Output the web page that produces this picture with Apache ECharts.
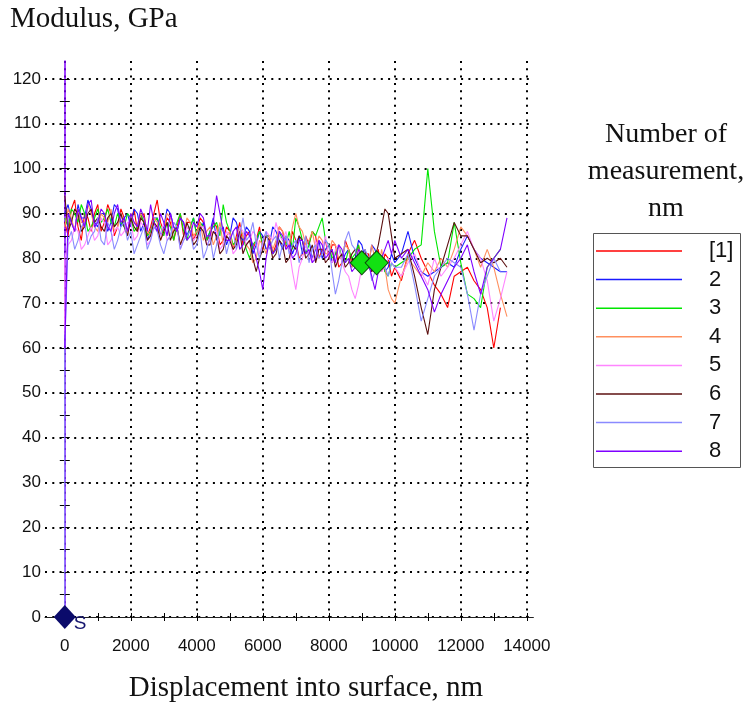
<!DOCTYPE html>
<html><head><meta charset="utf-8">
<script src="https://cdn.jsdelivr.net/npm/echarts@6/dist/echarts.min.js"></script>
<style>html,body{margin:0;padding:0;background:#fff}#c{width:745px;height:705px}</style>
</head><body><div id="c"></div><script>
// Depth grid (nm), main readings
const depth = [0,200,400,600,800,1000,1200,1400,1600,1800,
  2000,2200,2400,2600,2800,3000,3200,3400,3600,3800,
  4000,4200,4400,4600,4800,5000,5200,5400,5600,5800,
  6000,6200,6400,6600,6800,7000,7200,7400,7600,7800,
  8000,8200,8400,8600,8800,9000,9200,9400,9600,9800,
  10000,10200,10400,10600,10800,11000,11200,11400,11600,11800,
  12000,12200,12400,12600,12800,13000,13200,13400];
// Intermediate readings (nm)
const depthMid = [100,300,500,700,900,1100,1300,1500,1700,1900,
  2100,2300,2500,2700,2900,3100,3300,3500,3700,3900,
  4100,4300,4500,4700,4900,5100,5300,5500,5700,5900,
  6100,6300,6500,6700,6900,7100,7300,7500,7700,7900,
  8100,8300,8500,8700,8900,9100,9300,9500,9700,9900];

const seriesNames = ['[1]','2','3','4','5','6','7','8'];
const seriesColors = ['#ff0000','#1a1aff','#00e600','#ff8f5e','#ff85ff','#5c1010','#8a8aff','#7f00ff'];
// value at surface (x = 0) before the first reading, null if none
const surfaceStart = [null,null,null,null,63,null,0,null];

const mod1 = [88,91,87,90,86,92,88,90,87,89, 88,86,90,87,93,86,88,87,85,88, 86,88,85,87,84,86,85,83,86,84, 82,85,83,86,82,84,81,83,85,82, 80,83,79,82,80,78,81,79,77,80, 78,75,81,84,80,77,74,72,69,76, 77,78,75,73,69,60,69,null];
const mod2 = [90,88,92,89,91,87,90,88,91,89, 87,90,88,86,89,87,90,86,88,87, 85,88,86,84,87,85,88,84,86,83, 85,83,86,82,84,83,81,84,82,80, 83,81,79,82,80,83,78,82,80,78, 79,81,86,80,77,76,77,78,79,78, 82,85,82,80,79,78,77,77];
const mod3 = [89,91,88,90,87,91,89,88,90,87, 89,87,88,86,89,85,87,88,86,87, 85,87,86,88,92,86,84,85,80,84, 83,85,82,84,86,89,84,83,85,89, 83,81,80,82,81,79,80,78,80,76, 78,79,80,82,83,100,86,78,79,88, 79,72,71,69,78,80,82,null];
const mod4 = [87,89,91,88,90,86,89,91,87,88, 90,87,89,85,88,86,89,87,85,88, 86,84,87,85,83,86,84,85,82,80, 83,85,84,86,83,90,86,84,82,84, 81,83,80,82,79,81,78,80,82,73, 70,76,80,78,76,79,77,80,78,82, 87,85,82,78,82,78,72,67];
const mod5 = [80,84,86,83,87,85,88,84,87,86, 88,85,87,84,86,88,85,87,84,86, 85,87,84,86,83,85,82,86,84,85, 83,85,88,84,82,73,80,81,84,82, 80,82,79,76,71,78,80,79,77,80, 78,76,79,81,77,74,80,76,78,80, 83,86,82,80,75,66,71,77];
const mod6 = [94,88,90,87,91,89,86,90,88,87, 89,86,88,85,87,86,84,87,85,86, 84,86,83,85,82,84,83,81,84,77, 82,84,81,83,80,82,84,81,79,82, 80,78,81,79,82,80,78,80,87,90, 80,81,82,76,69,63,73,78,83,88, 85,85,82,79,80,79,80,78];
const mod7 = [60,86,84,88,85,89,83,86,84,88, 86,83,87,84,86,81,85,87,84,86, 83,80,85,83,86,84,82,89,85,83, 84,82,85,83,81,84,82,79,83,81, 83,72,79,86,82,78,80,77,79,76, 78,78,81,74,66,71,76,78,80,79, 78,72,64,72,76,80,77,null];
const mod8 = [60,88,91,87,93,88,90,86,92,89, 90,87,89,92,86,88,90,86,88,85, 87,89,85,94,86,84,87,83,85,80, 73,84,82,85,83,81,84,82,80,83, 81,79,82,80,78,81,79,73,80,84, 84,80,82,79,76,73,68,72,75,78, 80,83,77,72,78,80,82,89];

const mid1 = [85,93,84,89,90,86,92,85,91,86, 91,89,85,90,88,89,84,90,88,84, 89,84,88,83,87,82,88,85,82,87, 85,81,87,83,86,80,85,86,80,84, 83,78,84,79,83,81,77,82,81,76];
const mid2 = [92,86,89,93,88,90,86,92,87,90, 91,86,84,89,85,91,87,89,85,89, 86,84,89,86,83,89,85,87,81,86, 82,87,84,85,81,85,83,80,84,82, 79,83,81,78,84,80,83,79,77,81];
const mid3 = [87,90,92,86,89,88,91,87,88,90, 86,90,85,88,87,88,84,90,84,89, 88,84,87,85,88,83,87,82,83,86, 85,81,86,83,82,87,81,86,87,84, 80,83,79,80,83,80,78,81,77,79];
const mid4 = [91,86,88,92,87,90,88,86,90,85, 88,90,86,89,84,90,86,83,89,85, 88,86,83,88,85,82,87,83,79,84, 81,82,87,82,87,87,83,86,85,81, 84,80,83,78,82,80,83,77,78,71];
const mid5 = [83,87,82,85,84,89,83,86,85,88, 84,88,83,87,85,84,88,82,87,84, 87,83,86,82,86,81,87,83,86,81, 86,84,85,86,77,78,83,79,82,85, 79,83,77,73,74,80,77,81,78,79];
const mid6 = [86,91,86,90,88,87,89,87,90,85, 87,89,84,88,84,88,86,83,88,83, 87,83,86,81,85,82,86,83,80,80, 85,80,84,79,83,85,80,83,82,79, 82,80,78,81,79,82,77,83,91,85];
const mid7 = [84,82,87,83,86,84,88,82,87,84, 81,85,82,87,83,84,88,82,85,82, 86,82,80,87,81,86,85,84,88,80, 86,84,80,85,83,79,85,82,80,84, 77,75,84,83,79,82,75,80,78,79];
const mid8 = [90,86,89,92,87,91,87,90,88,86, 88,91,86,88,90,85,87,89,84,88, 90,85,88,90,84,86,82,86,83,77, 80,81,86,82,80,84,81,79,84,80, 82,83,79,77,82,78,76,77,82,81];

const modulus = [mod1,mod2,mod3,mod4,mod5,mod6,mod7,mod8];
const modulusMid = [mid1,mid2,mid3,mid4,mid5,mid6,mid7,mid8];

const yLabelValues = [0,10,20,30,40,50,60,70,80,90,100,110,120];
const yTickValues = [5,10,15,20,25,30,35,40,45,50,55,60,65,70,75,80,85,90,95,100,105,110,115,120];
const xLabelValues = [0,2000,4000,6000,8000,10000,12000,14000];
const xTickValues = [1000,2000,3000,4000,5000,6000,7000,8000,9000,10000,11000,12000,13000,14000];

const greenMarkers = [[9000,79],[9450,79]];
const surfaceMarker = [[0,0]];

const dotted = {color:'#000', width:2, type:[2,5.3]};
const lblFont = {fontSize:17, color:'#111', fontFamily:'Liberation Sans'};

const lineSeries = modulus.map((vals, i) => {
  const pts = [];
  vals.forEach((v, k) => { if (v !== null) pts.push([depth[k], v]); });
  modulusMid[i].forEach((v, k) => { if (v !== null) pts.push([depthMid[k], v]); });
  pts.sort((a, b) => a[0] - b[0]);
  const data = surfaceStart[i] !== null ? [[0, surfaceStart[i]]].concat(pts) : pts;
  return {
    type:'line', name:seriesNames[i], data, symbol:'none', showSymbol:false,
    lineStyle:{color:seriesColors[i], width:1.1}, itemStyle:{color:seriesColors[i]},
    xAxisIndex:0, yAxisIndex:0, z:2
  };
});

function xAx(idx, extra){
  return Object.assign({type:'value', min:-600, max:14200, gridIndex:0,
    axisLine:{show:false, onZero:true, onZeroAxisIndex:idx},
    axisTick:{show:false}, axisLabel:{show:false}, splitLine:{show:false}}, extra);
}
function yAx(idx, extra){
  return Object.assign({type:'value', min:0, max:124, gridIndex:0,
    axisLine:{show:false, onZero:true, onZeroAxisIndex:idx},
    axisTick:{show:false}, axisLabel:{show:false}, splitLine:{show:false}}, extra);
}

const chart = echarts.init(document.getElementById('c'), null, {renderer:'canvas'});
chart.setOption({
  animation:false,
  backgroundColor:'#fff',
  grid:{left:45, top:61, width:488.4, height:556, containLabel:false, outerBoundsMode:'none'},
  xAxis:[
    xAx(0, {axisLine:{show:true, onZero:true, onZeroAxisIndex:0, lineStyle:{color:'#222', width:1}},
      axisTick:{show:false, customValues:xLabelValues},
      axisLabel:Object.assign({show:true, customValues:xLabelValues, margin:21, formatter:(v)=>String(v)}, lblFont),
      splitLine:{show:true, lineStyle:dotted}}),
    xAx(1, {axisTick:{show:true, customValues:xTickValues, length:4, lineStyle:{color:'#000'}}}),
    xAx(2, {axisTick:{show:true, inside:true, customValues:xTickValues, length:4, lineStyle:{color:'#000'}}})
  ],
  yAxis:[
    yAx(0, {axisLine:{show:true, onZero:true, onZeroAxisIndex:0, lineStyle:{color:'#7f00ff', width:1.5}},
      axisTick:{show:false, customValues:yLabelValues},
      axisLabel:Object.assign({show:true, customValues:yLabelValues, margin:4, formatter:(v)=>String(v)}, lblFont),
      splitLine:{show:true, lineStyle:dotted}}),
    yAx(1, {axisTick:{show:true, customValues:yTickValues, length:5, lineStyle:{color:'#000'}}}),
    yAx(2, {axisTick:{show:true, inside:true, customValues:yTickValues, length:5, lineStyle:{color:'#000'}}})
  ],
  legend:{
    data:seriesNames, orient:'vertical', left:593, top:233, icon:'rect',
    itemWidth:86, itemHeight:1.5, itemGap:6.6, padding:[7,7,7,3],
    borderWidth:0, selectedMode:false,
    textStyle:{fontSize:22, lineHeight:20, color:'#111', fontFamily:'Liberation Sans', padding:[0,0,0,22]}
  },
  graphic:[
    {type:'text', left:10, top:5, style:{text:'Modulus, GPa', font:'29px "Liberation Serif"', fill:'#111'}},
    {type:'text', x:666, y:116, style:{text:'Number of\nmeasurement,\nnm', font:'28px "Liberation Serif"', fill:'#111', align:'center', textAlign:'center', lineHeight:37}},
    {type:'text', x:306, y:688, style:{text:'Displacement into surface, nm', font:'29px "Liberation Serif"', fill:'#111', align:'center', textAlign:'center', verticalAlign:'middle', textVerticalAlign:'middle'}},
    {type:'rect', shape:{x:593.5, y:233.5, width:147, height:234}, style:{fill:null, stroke:'#555', lineWidth:1}, z:-1}
  ],
  series: lineSeries.concat([
    {type:'scatter', name:'markers', data:greenMarkers, symbol:'diamond', symbolSize:[23,24],
      itemStyle:{color:'#12e012', borderColor:'#0a4a0a', borderWidth:1, opacity:1}, z:5, xAxisIndex:0, yAxisIndex:0},
    {type:'scatter', name:'surface', data:surfaceMarker, symbol:'diamond', symbolSize:[22,24], clip:false,
      itemStyle:{color:'#0b0b6b', opacity:1}, z:6, xAxisIndex:0, yAxisIndex:0,
      label:{show:true, formatter:'S', position:'right', offset:[-7,7], color:'#14146e', fontSize:19, fontFamily:'Liberation Sans'}}
  ])
});
</script></body></html>
